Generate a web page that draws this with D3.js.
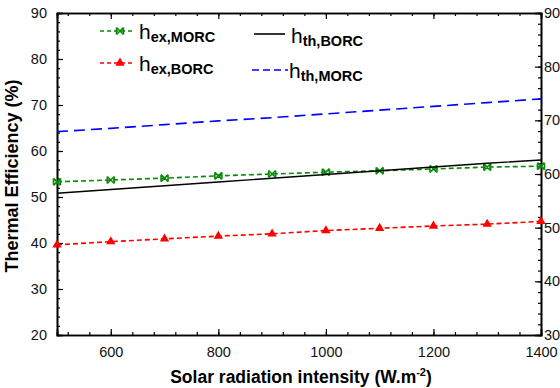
<!DOCTYPE html>
<html>
<head>
<meta charset="utf-8">
<script src="https://cdn.jsdelivr.net/npm/d3@7"></script>
<style>
  body { margin: 0; background: #fff; }
  svg { display: block; font-family: "Liberation Sans", Arial, sans-serif; }
</style>
</head>
<body>
<script>
// solar radiation intensity (W/m2)
const radiation = [500, 600, 700, 800, 900, 1000, 1100, 1200, 1300, 1400]

// exergy efficiency (left axis)
const exMORC = [53.3, 53.7, 54.1, 54.6, 55.0, 55.4, 55.7, 56.1, 56.5, 56.7]
const exBORC = [39.6, 40.3, 40.9, 41.5, 42.0, 42.7, 43.2, 43.7, 44.1, 44.7]

// thermal efficiency (right axis)
const thBORC = [56.4, 57.1, 57.8, 58.5, 59.2, 59.9, 60.6, 61.3, 62.0, 62.6]
const thMORC = [67.9, 68.5, 69.2, 69.9, 70.5, 71.2, 71.9, 72.6, 73.3, 74.0]

const xTicks = [600, 800, 1000, 1200, 1400]
const yLeftTicks = [20, 30, 40, 50, 60, 70, 80, 90]
const yRightTicks = [30, 40, 50, 60, 70, 80, 90]

let margins = { top: 13, right: 19, bottom: 53, left: 57 }
let width = 560 - margins.left - margins.right
let height = 388 - margins.top - margins.bottom

let x = d3.scaleLinear().domain([500, 1400]).range([0, width])
let yL = d3.scaleLinear().domain([20, 90]).range([height, 0])
let yR = d3.scaleLinear().domain([30, 90]).range([height, 0])

let svg = d3.select('body').append('svg')
    .attr('width', 560)
    .attr('height', 388)
  .append('g')
    .attr('transform', 'translate(' + [margins.left, margins.top] + ')')

// minor ticks
let xMinor = d3.range(520, 1400, 40)
let yLMinor = d3.range(22, 90, 2)
let yRMinor = d3.range(32, 90, 2)

function styleAxis(g) {
  g.select('.domain').attr('stroke', '#000').attr('stroke-width', 1.6)
  g.selectAll('.tick line').attr('stroke', '#000').attr('stroke-width', 1.2)
  g.selectAll('.tick text').attr('fill', '#111').style('font-size', '14.5px')
}

// minor tick groups
svg.append('g')
  .attr('transform', 'translate(0,' + height + ')')
  .call(d3.axisBottom(x).tickValues(xMinor).tickSize(-3).tickFormat(''))
  .call(styleAxis)
svg.append('g')
  .call(d3.axisTop(x).tickValues(xMinor).tickSize(-3).tickFormat(''))
  .call(styleAxis)
svg.append('g')
  .call(d3.axisLeft(yL).tickValues(yLMinor).tickSize(-3).tickFormat(''))
  .call(styleAxis)
svg.append('g')
  .attr('transform', 'translate(' + width + ',0)')
  .call(d3.axisRight(yR).tickValues(yRMinor).tickSize(-3).tickFormat(''))
  .call(styleAxis)

// major axes
svg.append('g')
  .attr('class', 'axis x')
  .attr('transform', 'translate(0,' + height + ')')
  .call(d3.axisBottom(x).tickValues(xTicks).tickSize(-6).tickPadding(12).tickFormat(d3.format('d')))
  .call(styleAxis)
svg.append('g')
  .call(d3.axisTop(x).tickValues(xTicks).tickSize(-6).tickFormat(''))
  .call(styleAxis)
svg.append('g')
  .attr('class', 'axis y')
  .call(d3.axisLeft(yL).tickValues(yLeftTicks).tickSize(-6).tickPadding(10))
  .call(styleAxis)
svg.append('g')
  .attr('transform', 'translate(' + width + ',0)')
  .call(d3.axisRight(yR).tickValues(yRightTicks).tickSize(-6).tickPadding(3))
  .call(styleAxis)

// axis titles
let xTitle = svg.append('text')
  .attr('x', width / 2 + 2)
  .attr('y', height + 48)
  .attr('text-anchor', 'middle')
  .style('font-size', '17.5px')
  .style('font-weight', 'bold')
xTitle.append('tspan').text('Solar radiation intensity (W.m')
xTitle.append('tspan').attr('dy', -7).style('font-size', '11px').text('-2')
xTitle.append('tspan').attr('dy', 7).text(')')

svg.append('text')
  .attr('transform', 'translate(' + [-39, height / 2 + 2] + ') rotate(-90)')
  .attr('text-anchor', 'middle')
  .style('font-size', '18px')
  .style('font-weight', 'bold')
  .text('Thermal Efficiency (%)')

let series = [
  { key: 'ex,MORC', values: exMORC, y: yL, color: '#0a8a0a', dash: '5,3', marker: 'cross' },
  { key: 'ex,BORC', values: exBORC, y: yL, color: '#ff0000', dash: '5,3', marker: 'tri' },
  { key: 'th,BORC', values: thBORC, y: yR, color: '#000000', dash: null, marker: null },
  { key: 'th,MORC', values: thMORC, y: yR, color: '#0000ff', dash: '11,6', marker: null }
]

let markerPath = {
  cross: 'M-3.5,-3.5L3.5,3.5M-3.5,3.5L3.5,-3.5M-3.5,-3.5L-3.5,3.5M3.5,-3.5L3.5,3.5',
  tri: d3.symbol(d3.symbolTriangle, 38)()
}

series.forEach((s) => {
  let line = d3.line()
    .x((d, i) => x(radiation[i]))
    .y((d) => s.y(d))
  svg.append('path')
    .attr('fill', 'none')
    .attr('stroke', s.color)
    .attr('stroke-width', s.key == 'th,BORC' ? 1.4 : 1.6)
    .attr('stroke-dasharray', s.dash)
    .attr('d', line(s.values))
  if (s.marker) {
    svg.selectAll(null)
        .data(s.values)
      .enter().append('path')
        .attr('transform', (d, i) => 'translate(' + [x(radiation[i]), s.y(d)] + ')')
        .attr('d', markerPath[s.marker])
        .attr('fill', s.color)
        .attr('stroke', s.color)
        .attr('stroke-width', s.marker == 'cross' ? 1.6 : 0)
  }
})

// legend
let legend = [
  { s: series[0], x0: 43, x1: 77, ty: 18, lx: 82, by: 26 },
  { s: series[1], x0: 43, x1: 77, ty: 50, lx: 82, by: 58 },
  { s: series[2], x0: 197, x1: 228, ty: 21, lx: 234, by: 30 },
  { s: series[3], x0: 195, x1: 231, ty: 57, lx: 232, by: 65 }
]

legend.forEach((l) => {
  let g = svg.append('g')
  g.append('line')
    .attr('x1', l.x0).attr('x2', l.x1)
    .attr('y1', l.ty).attr('y2', l.ty)
    .attr('stroke', l.s.color)
    .attr('stroke-width', 1.6)
    .attr('stroke-dasharray', l.s.dash ? (l.s.key == 'th,MORC' ? '7,4' : '4,3') : null)
  if (l.s.marker) {
    g.append('path')
      .attr('transform', 'translate(' + [(l.x0 + l.x1) / 2 + 3, l.ty] + ')')
      .attr('d', markerPath[l.s.marker])
      .attr('fill', l.s.color)
      .attr('stroke', l.s.color)
      .attr('stroke-width', l.s.marker == 'cross' ? 1.6 : 0)
  }
  let t = g.append('text')
    .attr('x', l.lx)
    .attr('y', l.by)
    .attr('fill', '#000')
  t.append('tspan').style('font-size', '21px').text('h')
  t.append('tspan').attr('dy', 3).style('font-size', '14.5px').style('font-weight', 'bold').text(l.s.key)
})
</script>
</body>
</html>
